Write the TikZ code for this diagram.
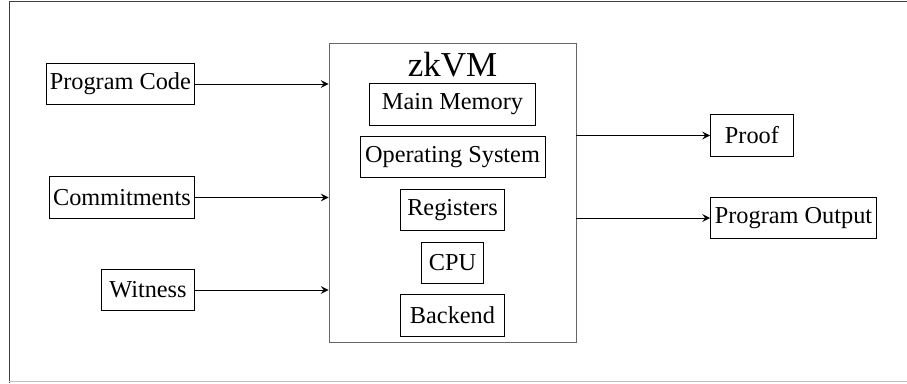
\documentclass[tikz,border=0pt]{standalone}
\usepackage{fontspec}
\setmainfont{Liberation Serif}
\usepackage{xcolor}
\usetikzlibrary{shapes,arrows,positioning,fit,calc}

\tikzset{
  part/.style={rectangle, draw, inner xsep=1.5pt, minimum height=17pt},
}

\begin{document}
\begin{tikzpicture}[x=0.4114pt, y=-0.4114pt, node distance=4.3pt, >=stealth]
    \useasboundingbox (0,0) rectangle (907,383);
    % frame
    \draw[black!75] (9,383) -- (9,1.5) -- (907,1.5);
    \draw[black!25] (9,381.5) -- (907,381.5);

    % inputs
    \node (code) [part, anchor=east, minimum width=59.7pt] at (195,84) {Program Code};
    \node (commit) [part, anchor=east, minimum width=59.7pt] at (195,197.5) {Commitments};
    \node (witness) [part, anchor=east, minimum width=38.3pt] at (195,290) {Witness};

    % the zkVM
    \node (zkvm) [rectangle, draw=black!60, minimum width=101.6pt, minimum height=123pt] at (452.5,192.5) {};
    \node (title) at (452.5,65) {\Large zkVM};
    \node (memory) [part, minimum width=67.9pt] at (452.5,104.5) {Main Memory};
    \node (os) [part, below=of memory, minimum width=76.1pt] {Operating System};
    \node (regs) [part, below=of os, minimum width=42.4pt] {Registers};
    \node (cpu) [part, below=of regs, minimum width=25.5pt] {CPU};
    \node (backend) [part, below=of cpu, minimum width=42.4pt] {Backend};

    % outputs
    \node (proof) [part, anchor=west, minimum width=34.1pt] at (710,135.5) {Proof};
    \node (output) [part, anchor=west, minimum width=68.3pt] at (710,218) {Program Output};

    \draw [->] (code.east) -- (code.east -| zkvm.west);
    \draw [->] (commit.east) -- (commit.east -| zkvm.west);
    \draw [->] (witness.east) -- (witness.east -| zkvm.west);
    \draw [->] (zkvm.east |- proof.west) -- (proof.west);
    \draw [->] (zkvm.east |- output.west) -- (output.west);
\end{tikzpicture}
\end{document}
